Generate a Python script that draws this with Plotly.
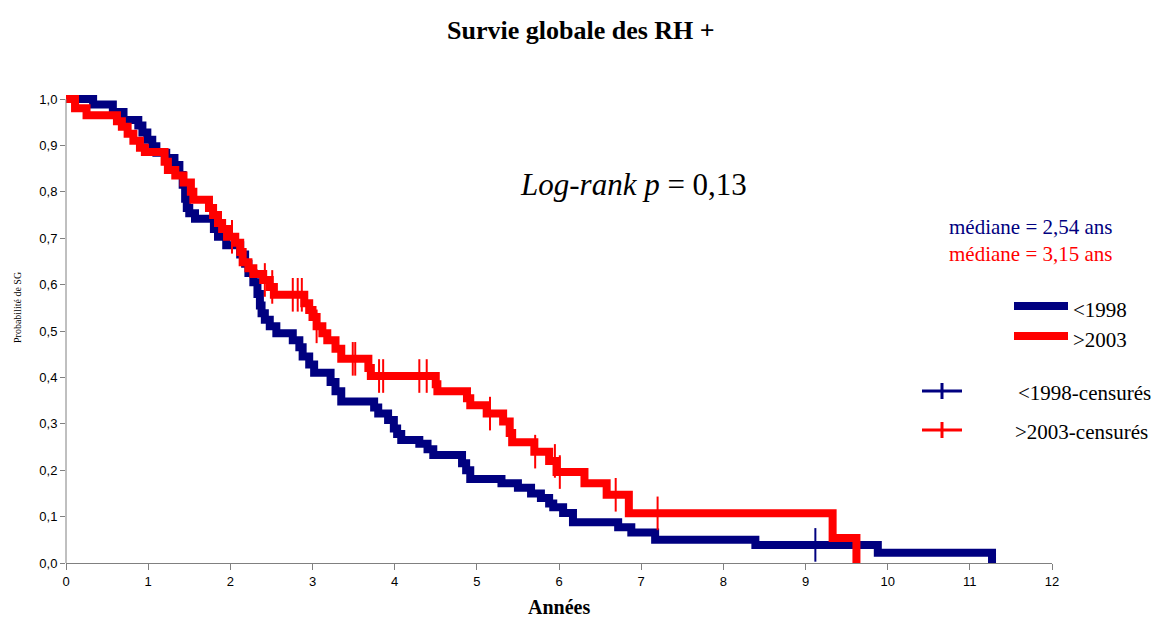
import numpy as np
import plotly.graph_objects as go

# ---------------- data ----------------
years_1998 = [0, 0.33, 0.57, 0.70, 0.88, 0.93, 0.99, 1.05, 1.10, 1.22, 1.32, 1.38, 1.42, 1.45,
              1.47, 1.50, 1.57, 1.80, 1.85, 1.95, 2.12, 2.18, 2.22, 2.28, 2.33, 2.36, 2.38, 2.42,
              2.48, 2.56, 2.76, 2.84, 2.88, 2.96, 3.02, 3.22, 3.28, 3.35, 3.75, 3.80, 3.92, 3.99,
              4.03, 4.08, 4.30, 4.40, 4.47, 4.82, 4.87, 4.92, 5.30, 5.50, 5.66, 5.78, 5.88, 5.93,
              6.05, 6.17, 6.72, 6.88, 7.17, 8.39, 9.88, 11.27]
surv_1998 = [1.0, 0.988, 0.972, 0.955, 0.943, 0.928, 0.912, 0.898, 0.884, 0.873, 0.858, 0.836, 0.815, 0.785,
             0.765, 0.754, 0.742, 0.72, 0.703, 0.685, 0.665, 0.645, 0.625, 0.605, 0.58, 0.555, 0.538, 0.524,
             0.51, 0.495, 0.48, 0.465, 0.445, 0.428, 0.41, 0.39, 0.37, 0.348, 0.335, 0.322, 0.308, 0.29,
             0.278, 0.265, 0.257, 0.245, 0.233, 0.215, 0.2, 0.181, 0.172, 0.162, 0.15, 0.14, 0.128, 0.12,
             0.108, 0.088, 0.077, 0.066, 0.05, 0.039, 0.022, 0.0]

years_2003 = [0, 0.11, 0.25, 0.62, 0.68, 0.75, 0.82, 0.90, 0.96, 1.20, 1.24, 1.33, 1.43, 1.52, 1.55,
              1.74, 1.79, 1.85, 1.90, 1.96, 2.06, 2.12, 2.15, 2.22, 2.28, 2.40, 2.48, 2.53, 2.90, 2.96,
              3.00, 3.05, 3.12, 3.18, 3.28, 3.35, 3.68, 3.71, 4.50, 4.52, 4.88, 4.92, 5.12, 5.32, 5.40,
              5.43, 5.70, 5.88, 5.97, 6.31, 6.58, 6.85, 9.33, 9.62]
surv_2003 = [1.0, 0.98, 0.965, 0.952, 0.94, 0.925, 0.91, 0.895, 0.886, 0.865, 0.847, 0.835, 0.82, 0.80, 0.783,
             0.765, 0.75, 0.733, 0.72, 0.703, 0.69, 0.67, 0.648, 0.635, 0.623, 0.61, 0.595, 0.578, 0.56, 0.545,
             0.53, 0.51, 0.495, 0.48, 0.462, 0.44, 0.42, 0.403, 0.385, 0.37, 0.355, 0.34, 0.322, 0.305, 0.28,
             0.26, 0.24, 0.22, 0.196, 0.172, 0.147, 0.107, 0.054, 0.0]

censored_1998 = [9.12]
censored_2003 = [2.02, 2.42, 2.51, 2.76, 2.82, 2.87, 3.05, 3.49, 3.52, 3.81, 3.86, 4.30, 4.39,
                 5.16, 5.71, 5.95, 6.01, 6.69, 7.20]

x_ticks = list(range(0, 13))
x_tick_labels = [str(v) for v in x_ticks]
y_ticks = [0.0, 0.1, 0.2, 0.3, 0.4, 0.5, 0.6, 0.7, 0.8, 0.9, 1.0]
y_tick_labels = ["0,0", "0,1", "0,2", "0,3", "0,4", "0,5", "0,6", "0,7", "0,8", "0,9", "1,0"]

NAVY = "#000080"
RED = "#FF0000"
SERIF = "Liberation Serif, Times New Roman, serif"
SANS = "Liberation Sans, Arial, sans-serif"


def step_value(times, values, t):
    i = int(np.searchsorted(np.asarray(times), t, side="right")) - 1
    return values[max(i, 0)]


# layout geometry (pixels)
W, H = 1152, 622
ML, MR, MT, MB = 66, 100, 92, 59
PW, PH = W - ML - MR, H - MT - MB


def px(x):
    return (x - ML) / PW


def py(y):
    return (H - MB - y) / PH


fig = go.Figure()

fig.add_trace(go.Scatter(x=years_1998, y=surv_1998, mode="lines", line=dict(color=NAVY, width=8, shape="hv"),
                         showlegend=False, hoverinfo="skip"))
fig.add_trace(go.Scatter(x=years_2003, y=surv_2003, mode="lines", line=dict(color=RED, width=8, shape="hv"),
                         showlegend=False, hoverinfo="skip"))

fig.add_trace(go.Scatter(x=censored_1998, y=[step_value(years_1998, surv_1998, t) for t in censored_1998],
                         mode="markers", marker=dict(symbol="line-ns", size=24, line=dict(color=NAVY, width=2)),
                         showlegend=False, hoverinfo="skip", cliponaxis=False))
fig.add_trace(go.Scatter(x=censored_2003, y=[step_value(years_2003, surv_2003, t) for t in censored_2003],
                         mode="markers", marker=dict(symbol="line-ns", size=24, line=dict(color=RED, width=2)),
                         showlegend=False, hoverinfo="skip", cliponaxis=False))

shapes = [
    # y axis line
    dict(type="line", xref="paper", yref="y", x0=0, x1=0, y0=0, y1=1.0, line=dict(color="#808080", width=1)),
    # legend lines
    dict(type="line", xref="paper", yref="paper", x0=px(1014), x1=px(1068), y0=py(306), y1=py(306),
         line=dict(color=NAVY, width=8)),
    dict(type="line", xref="paper", yref="paper", x0=px(1014), x1=px(1068), y0=py(336), y1=py(336),
         line=dict(color=RED, width=8)),
    dict(type="line", xref="paper", yref="paper", x0=px(922), x1=px(962), y0=py(391), y1=py(391),
         line=dict(color=NAVY, width=3)),
    dict(type="line", xref="paper", yref="paper", x0=px(942), x1=px(942), y0=py(383), y1=py(399),
         line=dict(color=NAVY, width=3)),
    dict(type="line", xref="paper", yref="paper", x0=px(922), x1=px(962), y0=py(430), y1=py(430),
         line=dict(color=RED, width=3)),
    dict(type="line", xref="paper", yref="paper", x0=px(942), x1=px(942), y0=py(422), y1=py(438),
         line=dict(color=RED, width=3)),
]

annotations = [
    dict(text="<b>Survie globale des RH +</b>", xref="paper", yref="paper", x=px(581), y=py(30),
         xanchor="center", yanchor="middle", showarrow=False, font=dict(family=SERIF, size=26, color="black")),
    dict(text="<i>Log-rank p</i> = 0,13", xref="paper", yref="paper", x=px(633), y=py(184),
         xanchor="center", yanchor="middle", showarrow=False, font=dict(family=SERIF, size=31, color="black")),
    dict(text="médiane = 2,54 ans", xref="paper", yref="paper", x=px(1030), y=py(227),
         xanchor="center", yanchor="middle", showarrow=False, font=dict(family=SERIF, size=21, color=NAVY)),
    dict(text="médiane = 3,15 ans", xref="paper", yref="paper", x=px(1030), y=py(254),
         xanchor="center", yanchor="middle", showarrow=False, font=dict(family=SERIF, size=21, color=RED)),
    dict(text="&lt;1998", xref="paper", yref="paper", x=px(1071), y=py(310),
         xanchor="left", yanchor="middle", showarrow=False, font=dict(family=SERIF, size=21, color="black")),
    dict(text="&gt;2003", xref="paper", yref="paper", x=px(1071), y=py(340),
         xanchor="left", yanchor="middle", showarrow=False, font=dict(family=SERIF, size=21, color="black")),
    dict(text="&lt;1998-censurés", xref="paper", yref="paper", x=px(1016), y=py(393),
         xanchor="left", yanchor="middle", showarrow=False, font=dict(family=SERIF, size=21, color="black")),
    dict(text="&gt;2003-censurés", xref="paper", yref="paper", x=px(1013), y=py(432),
         xanchor="left", yanchor="middle", showarrow=False, font=dict(family=SERIF, size=21, color="black")),
    dict(text="<b>Années</b>", xref="paper", yref="paper", x=px(559), y=py(620),
         xanchor="center", yanchor="bottom", showarrow=False, font=dict(family=SERIF, size=20, color="black")),
    dict(text="Probabilité de SG", xref="paper", yref="paper", x=px(17), y=py(308), textangle=-90,
         xanchor="center", yanchor="middle", showarrow=False, font=dict(family=SERIF, size=10, color="black")),
]

fig.update_layout(
    width=W, height=H,
    margin=dict(l=ML, r=MR, t=MT, b=MB),
    paper_bgcolor="white", plot_bgcolor="white",
    shapes=shapes, annotations=annotations,
    showlegend=False,
    xaxis=dict(range=[0, 12], tickvals=x_ticks, ticktext=x_tick_labels, showgrid=False, zeroline=False,
               showline=True, linecolor="#808080", linewidth=1, ticks="outside", ticklen=6,
               tickcolor="#808080", tickfont=dict(family=SANS, size=13, color="black")),
    yaxis=dict(range=[0, 1.0 + 7 / 464], tickvals=y_ticks, ticktext=y_tick_labels, showgrid=False,
               zeroline=False, showline=False, ticks="outside", ticklen=5, tickcolor="#808080",
               tickfont=dict(family=SANS, size=13, color="black")),
)

fig.write_html("out.html")
